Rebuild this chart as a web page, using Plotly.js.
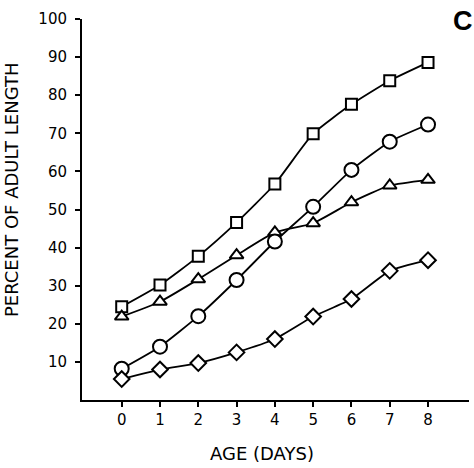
<!DOCTYPE html>
<html>
<head>
<meta charset="utf-8">
<script src="https://cdn.plot.ly/plotly-3.0.1.min.js"></script>
<style>html,body{margin:0;padding:0;background:#fff;}#chart{width:474px;height:468px;}</style>
</head>
<body>
<div id="chart"></div>
<script>
const days = [0, 1, 2, 3, 4, 5, 6, 7, 8];
const squareSeries = [24.5, 30.2, 37.7, 46.6, 56.7, 69.9, 77.6, 83.8, 88.6];
const circleSeries = [8.2, 14.0, 22.0, 31.5, 41.6, 50.7, 60.4, 67.8, 72.3];
const triangleSeries = [21.9, 25.8, 31.7, 38.0, 44.0, 46.4, 51.9, 56.3, 57.8];
const diamondSeries = [5.5, 8.0, 9.7, 12.5, 16.0, 21.9, 26.5, 33.9, 36.7];
const xTickVals = [0, 1, 2, 3, 4, 5, 6, 7, 8];
const yTickVals = [10, 20, 30, 40, 50, 60, 70, 80, 90, 100];

const FONT = 'DejaVu Sans, Liberation Sans, Arial, sans-serif';

function series(y, symbol, size) {
  return {
    x: days, y: y, type: 'scatter', mode: 'lines+markers',
    line: {color: '#000', width: 1.8, shape: 'spline', smoothing: 0.5},
    marker: {symbol: symbol, size: size, color: '#fff', line: {color: '#000', width: 2}},
    cliponaxis: false, showlegend: false, hoverinfo: 'x+y'
  };
}

const data = [
  series(squareSeries, 'square', 11),
  series(triangleSeries, 'triangle-up', 12),
  series(circleSeries, 'circle', 14),
  series(diamondSeries, 'diamond', 12)
];

const layout = {
  width: 474, height: 468,
  margin: {l: 82, r: 5, t: 19, b: 68, pad: 0},
  paper_bgcolor: '#fff', plot_bgcolor: '#fff',
  font: {family: FONT, color: '#000', size: 15},
  xaxis: {
    range: [-1.037, 9.07], tickvals: xTickVals, ticktext: xTickVals.map(String),
    showline: true, linecolor: '#000', linewidth: 2,
    ticks: 'outside', ticklen: 5, tickwidth: 2, tickcolor: '#000',
    showgrid: false, zeroline: false, fixedrange: true,
    tickfont: {family: FONT, size: 15, color: '#000'}
  },
  yaxis: {
    range: [0, 100], tickvals: yTickVals, ticktext: yTickVals.map(String),
    showline: true, linecolor: '#000', linewidth: 2,
    ticks: 'outside', ticklen: 5, tickwidth: 2, tickcolor: '#000',
    ticklabelstandoff: 5,
    showgrid: false, zeroline: false, fixedrange: true,
    tickfont: {family: FONT, size: 15, color: '#000'}
  },
  annotations: [
    {text: 'AGE (DAYS)', xref: 'paper', yref: 'paper', x: (262 - 82) / 387, y: -0.14,
     xanchor: 'center', yanchor: 'middle', showarrow: false,
     font: {family: FONT, size: 18, color: '#000'}},
    {text: 'PERCENT OF ADULT LENGTH', xref: 'paper', yref: 'paper', x: (11 - 82) / 387, y: (401 - 190.5) / 382,
     xanchor: 'center', yanchor: 'middle', textangle: -90, showarrow: false,
     font: {family: FONT, size: 18, color: '#000'}},
    {text: '<b>C</b>', xref: 'paper', yref: 'paper', x: (474 - 82) / 387, y: (401 - 21) / 382,
     xanchor: 'right', yanchor: 'middle', showarrow: false, borderpad: 0,
     font: {family: 'Liberation Sans, Arial, sans-serif', size: 27, color: '#000'}}
  ]
};

Plotly.newPlot('chart', data, layout, {displayModeBar: false, staticPlot: true});
</script>
</body>
</html>
